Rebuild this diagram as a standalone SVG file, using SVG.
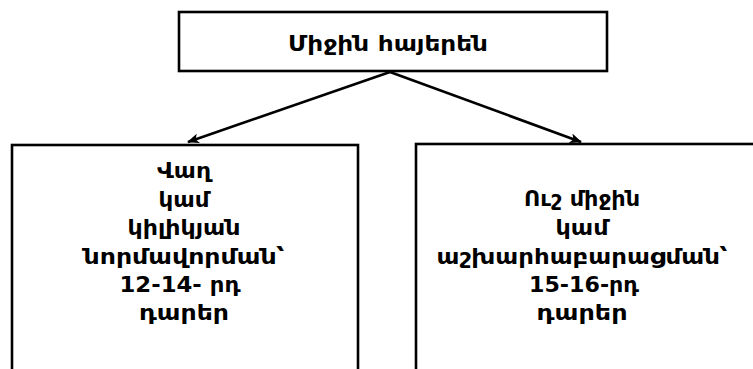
<svg xmlns="http://www.w3.org/2000/svg" width="753" height="369" viewBox="0 0 753 369">
  <style>
    .box { fill: #ffffff; stroke: #000000; stroke-width: 2.6; }
    .lbl { font-family: "DejaVu Sans", "Noto Sans", sans-serif; font-weight: bold; font-size: 21px; fill: #000000; text-anchor: middle; }
    .edge { stroke: #000000; stroke-width: 2.6; fill: none; marker-end: url(#head); }
  </style>
  <defs>
    <marker id="head" viewBox="0 0 12 10" refX="11" refY="5" markerWidth="12" markerHeight="10" markerUnits="userSpaceOnUse" orient="auto">
      <path d="M0,0 L12,5 L0,10 L3,5 Z" fill="#000000"/>
    </marker>
  </defs>
  <rect width="753" height="369" fill="#ffffff"/>

  <g id="connectors">
    <line class="edge" x1="390" y1="72" x2="188" y2="142"/>
    <line class="edge" x1="390" y1="72" x2="581" y2="142"/>
  </g>

  <g id="node-middle-armenian">
    <rect class="box" x="179" y="12" width="428" height="59"/>
    <text class="lbl" x="388" y="51" textLength="200" lengthAdjust="spacingAndGlyphs">Միջին հայերեն</text>
  </g>

  <g id="node-early">
    <rect class="box" x="12" y="145" width="346" height="240"/>
    <text class="lbl" x="184" y="178" textLength="54" lengthAdjust="spacingAndGlyphs">Վաղ</text>
    <text class="lbl" x="184" y="207" textLength="51" lengthAdjust="spacingAndGlyphs">կամ</text>
    <text class="lbl" x="184" y="235" textLength="113" lengthAdjust="spacingAndGlyphs">կիլիկյան</text>
    <text class="lbl" x="184" y="264" textLength="201" lengthAdjust="spacingAndGlyphs">նորմավորման՝</text>
    <text class="lbl" x="180" y="292" textLength="121" lengthAdjust="spacingAndGlyphs">12-14- րդ</text>
    <text class="lbl" x="184" y="320" textLength="90" lengthAdjust="spacingAndGlyphs">դարեր</text>
  </g>

  <g id="node-late">
    <rect class="box" x="416" y="144" width="360" height="240"/>
    <text class="lbl" x="582" y="206" textLength="116" lengthAdjust="spacingAndGlyphs">Ուշ միջին</text>
    <text class="lbl" x="582" y="235" textLength="53" lengthAdjust="spacingAndGlyphs">կամ</text>
    <text class="lbl" x="582" y="264" textLength="291" lengthAdjust="spacingAndGlyphs">աշխարհաբարացման՝</text>
    <text class="lbl" x="584" y="292" textLength="110" lengthAdjust="spacingAndGlyphs">15-16-րդ</text>
    <text class="lbl" x="582" y="320" textLength="91" lengthAdjust="spacingAndGlyphs">դարեր</text>
  </g>
</svg>
